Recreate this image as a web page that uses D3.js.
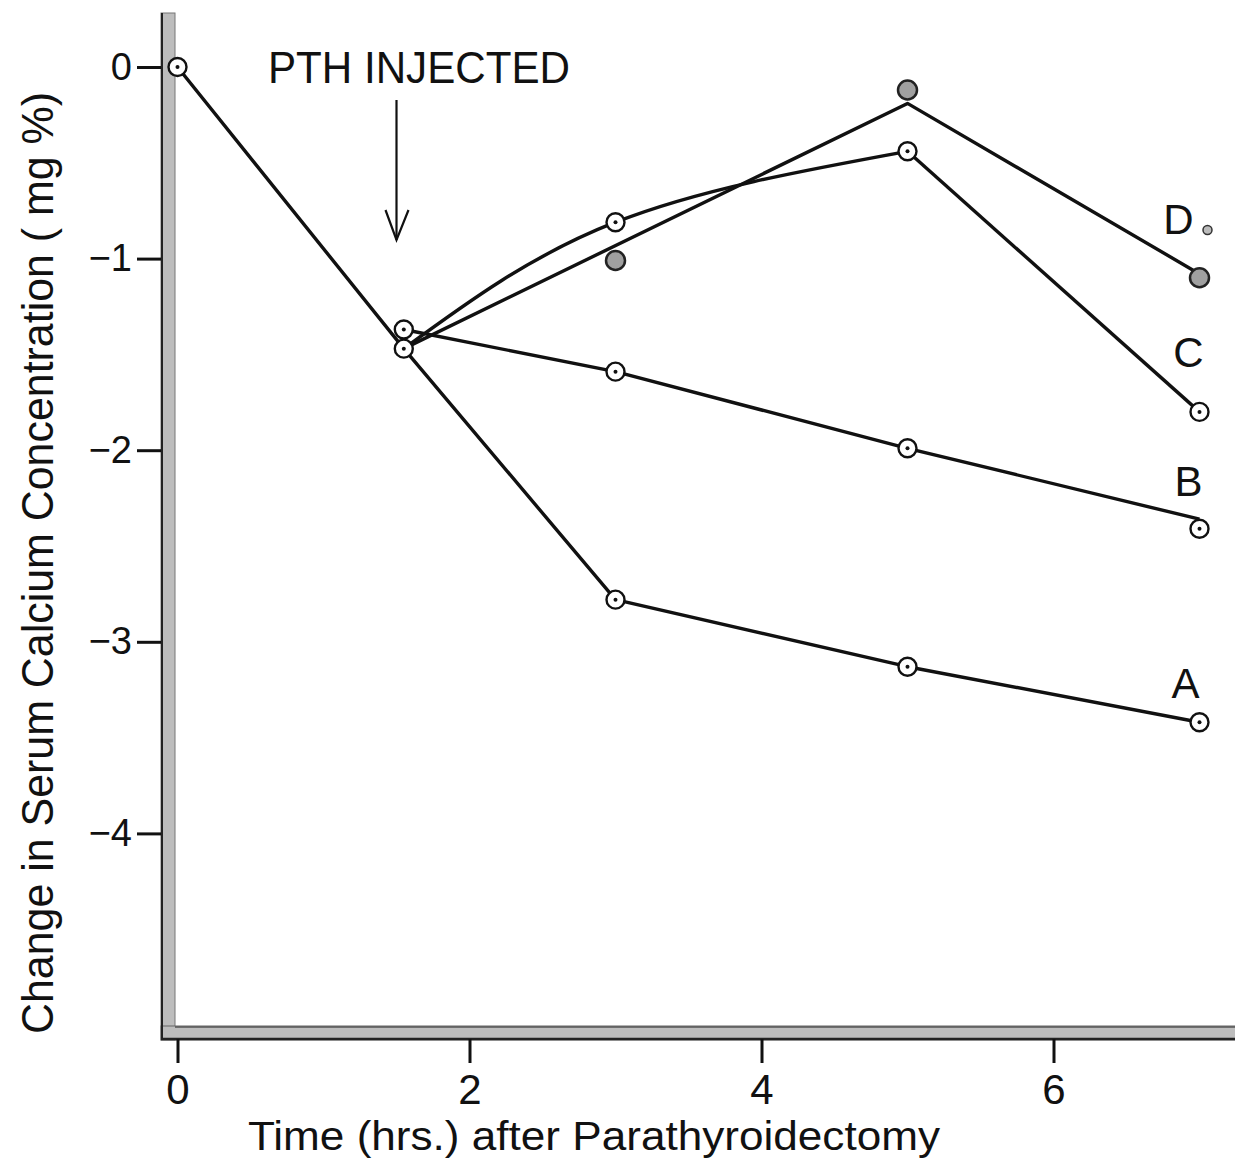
<!DOCTYPE html>
<html>
<head>
<meta charset="utf-8">
<script src="https://cdn.jsdelivr.net/npm/d3@7"></script>
<style>
  body { margin: 0; background: #fff; }
  svg text { font-family: "Liberation Sans", "DejaVu Sans", sans-serif; fill: #111; }
</style>
</head>
<body>
<div id="vis"></div>
<script>
// values (hours, change in mg %)
var timeA = [0, 1.55, 3, 5, 7];
var valA = [0, -1.47, -2.78, -3.13, -3.42];

var timeB = [1.55, 3, 5, 7];
var valB = [-1.37, -1.59, -1.99, -2.41];
var lineValB = [-1.37, -1.59, -1.99, -2.36];

var timeC = [1.55, 3, 5, 7];
var valC = [-1.47, -0.81, -0.44, -1.80];

var lineTimeD = [1.55, 5, 7];
var lineValD = [-1.47, -0.19, -1.08];
var timeD = [3, 5, 7];
var valD = [-1.01, -0.12, -1.10];

var xTicks = [0, 2, 4, 6];
var yTicks = [0, -1, -2, -3, -4];

var width = 1235,
    height = 1167;

var svg = d3.select('#vis')
    .append('svg')
    .attr('width', width)
    .attr('height', height);

var x_scale = d3.scaleLinear()
    .domain([0, 7])
    .range([177.5, 1199.5]);

var y_scale = d3.scaleLinear()
    .domain([0, -5])
    .range([67, 1025]);

function pts(ts, vs) {
    return ts.map(function(t, i) { return [t, vs[i]]; });
}

// axis bands (thick grey bars of the original drawing)
svg.append('rect')
    .attr('x', 161).attr('y', 13)
    .attr('width', 14).attr('height', 1027)
    .attr('fill', '#bdbdbd')
    .attr('stroke', '#777').attr('stroke-width', 1);
svg.append('rect')
    .attr('x', 161).attr('y', 1026)
    .attr('width', 1080).attr('height', 14)
    .attr('fill', '#bdbdbd')
    .attr('stroke', '#666').attr('stroke-width', 1);
svg.append('line')
    .attr('x1', 162).attr('x2', 162).attr('y1', 13).attr('y2', 1040)
    .attr('stroke', '#222').attr('stroke-width', 2);
svg.append('line')
    .attr('x1', 161).attr('x2', 1235).attr('y1', 1039).attr('y2', 1039)
    .attr('stroke', '#222').attr('stroke-width', 2.5);
svg.append('line')
    .attr('x1', 175).attr('x2', 1235).attr('y1', 1027).attr('y2', 1027)
    .attr('stroke', '#555').attr('stroke-width', 1.5);

// axes
var y_axis = d3.axisLeft(y_scale)
    .tickValues(yTicks)
    .tickSize(24)
    .tickPadding(5)
    .tickFormat(function(d) { return d === 0 ? '0' : '\u2212' + Math.abs(d); });

var x_axis = d3.axisBottom(x_scale)
    .tickValues(xTicks)
    .tickSize(24)
    .tickPadding(11)
    .tickFormat(d3.format('d'));

var gy = svg.append('g')
    .attr('class', 'y axis')
    .attr('transform', 'translate(161,0)')
    .call(y_axis);

var gx = svg.append('g')
    .attr('class', 'x axis')
    .attr('transform', 'translate(0,1039)')
    .call(x_axis);

[gx, gy].forEach(function(g) {
    g.select('.domain').remove();
    g.selectAll('line').attr('stroke', '#111').attr('stroke-width', 3);
    g.selectAll('text').attr('fill', '#111');
});
gy.selectAll('text').style('font-size', '38px');
gx.selectAll('text').style('font-size', '42px');

// axis titles
svg.append('text')
    .attr('transform', 'translate(53,563) rotate(-90)')
    .attr('text-anchor', 'middle')
    .attr('textLength', 942)
    .attr('lengthAdjust', 'spacingAndGlyphs')
    .style('font-size', '44px')
    .text('Change in Serum Calcium Concentration ( mg %)');

svg.append('text')
    .attr('x', 594).attr('y', 1150)
    .attr('text-anchor', 'middle')
    .attr('textLength', 692)
    .attr('lengthAdjust', 'spacingAndGlyphs')
    .style('font-size', '41px')
    .text('Time (hrs.) after Parathyroidectomy');

// annotation
svg.append('text')
    .attr('x', 268).attr('y', 83)
    .attr('textLength', 302)
    .attr('lengthAdjust', 'spacingAndGlyphs')
    .style('font-size', '44px')
    .text('PTH INJECTED');

svg.append('line')
    .attr('x1', x_scale(1.5)).attr('x2', x_scale(1.5))
    .attr('y1', 100).attr('y2', 240)
    .attr('stroke', '#111').attr('stroke-width', 2.2);
svg.append('path')
    .attr('d', 'M' + (x_scale(1.5) - 11) + ',210L' + x_scale(1.5) + ',240L' + (x_scale(1.5) + 12) + ',210')
    .attr('fill', 'none')
    .attr('stroke', '#111').attr('stroke-width', 2.2);

// lines
var line = d3.line()
    .x(function(d) { return x_scale(d[0]); })
    .y(function(d) { return y_scale(d[1]); });

var curved = d3.line()
    .x(function(d) { return x_scale(d[0]); })
    .y(function(d) { return y_scale(d[1]); })
    .curve(d3.curveNatural);

var g_lines = svg.append('g')
    .attr('fill', 'none')
    .attr('stroke', '#111')
    .attr('stroke-width', 3.4)
    .attr('stroke-linejoin', 'round');

g_lines.append('path').attr('d', line(pts(timeA, valA)));
g_lines.append('path').attr('d', line(pts(timeB, lineValB)));
var c_pts = pts(timeC, valC);
g_lines.append('path').attr('d', curved(c_pts.slice(0, 3)));
g_lines.append('path').attr('d', line(c_pts.slice(2)));
g_lines.append('path').attr('d', line(pts(lineTimeD, lineValD)));

// open markers with centre dot
var open_pts = pts(timeA, valA)
    .concat(pts(timeB, valB))
    .concat(pts(timeC, valC).slice(1));

var g_open = svg.append('g');
g_open.selectAll('circle.open')
    .data(open_pts)
    .enter()
    .append('circle')
    .attr('class', 'open')
    .attr('cx', function(d) { return x_scale(d[0]); })
    .attr('cy', function(d) { return y_scale(d[1]); })
    .attr('r', 9)
    .attr('fill', '#fff')
    .attr('stroke', '#111')
    .attr('stroke-width', 2.4);
g_open.selectAll('circle.dot')
    .data(open_pts)
    .enter()
    .append('circle')
    .attr('class', 'dot')
    .attr('cx', function(d) { return x_scale(d[0]); })
    .attr('cy', function(d) { return y_scale(d[1]); })
    .attr('r', 2)
    .attr('fill', '#111');

// filled markers (D)
svg.append('g')
    .selectAll('circle')
    .data(pts(timeD, valD))
    .enter()
    .append('circle')
    .attr('cx', function(d) { return x_scale(d[0]); })
    .attr('cy', function(d) { return y_scale(d[1]); })
    .attr('r', 9.5)
    .attr('fill', '#a0a0a0')
    .attr('stroke', '#222')
    .attr('stroke-width', 2.5);

// series labels
var labels = [
    { name: 'A', t: 7, v: -3.42, dx: -14, dy: -24 },
    { name: 'B', t: 7, v: -2.41, dx: -11, dy: -33 },
    { name: 'C', t: 7, v: -1.80, dx: -11, dy: -45 },
    { name: 'D', t: 7, v: -1.10, dx: -21, dy: -44 }
];
svg.selectAll('text.series')
    .data(labels)
    .enter()
    .append('text')
    .attr('class', 'series')
    .attr('x', function(d) { return x_scale(d.t) + d.dx; })
    .attr('y', function(d) { return y_scale(d.v) + d.dy; })
    .attr('text-anchor', 'middle')
    .style('font-size', '42px')
    .text(function(d) { return d.name; });

// small filled-symbol key next to D
svg.append('circle')
    .attr('cx', x_scale(7) + 8).attr('cy', 230)
    .attr('r', 4.5)
    .attr('fill', '#bbb')
    .attr('stroke', '#333')
    .attr('stroke-width', 1.5);
</script>
</body>
</html>
